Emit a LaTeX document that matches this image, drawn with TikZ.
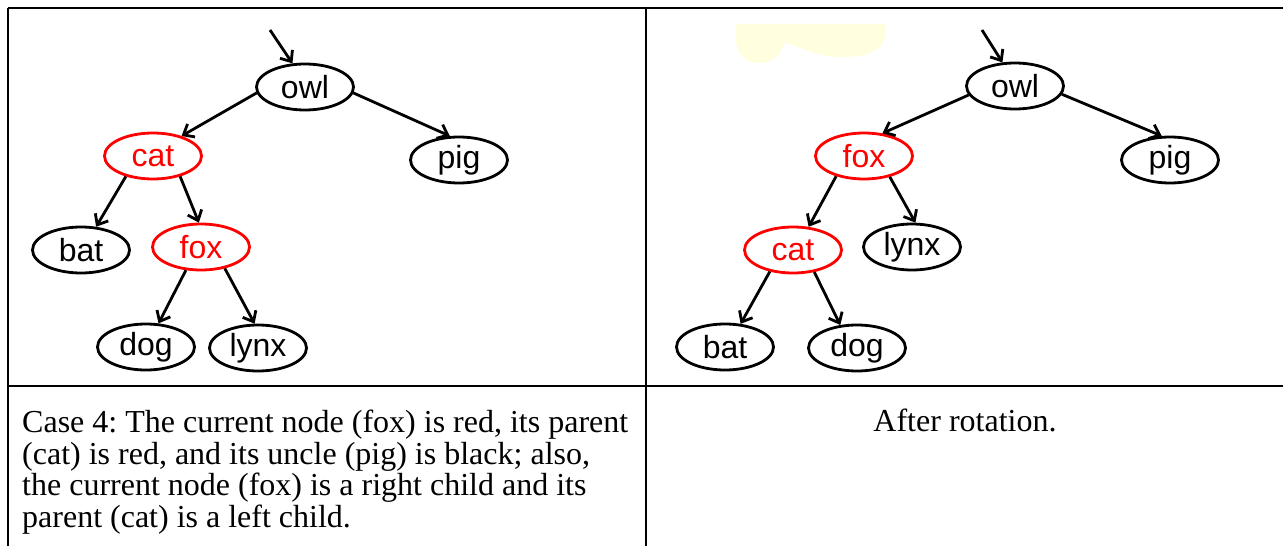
\documentclass[tikz,border=0pt]{standalone}
\usepackage{fontspec}
\setmainfont{Liberation Serif}
\newfontfamily\treefont{Liberation Sans}
\usetikzlibrary{arrows.meta,shapes.geometric}
\definecolor{notepad}{HTML}{FFFFE0}
\tikzset{
  rb/.style={ellipse, draw=black, line width=2.8pt, minimum width=97pt,
             minimum height=46pt, inner sep=0pt,
             font=\treefont\fontsize{32}{32}\selectfont, text=black},
  rednode/.style={rb, draw=red, text=red},
  link/.style={line width=2.8pt, -{Straight Barb[length=9pt,width=15pt]}},
  grid/.style={line width=2.5pt},
  caption/.style={font=\fontsize{32}{31.5}\selectfont, inner sep=0pt}
}
\begin{document}
\frenchspacing
\begin{tikzpicture}[x=1pt,y=-1pt]
\useasboundingbox (0,0) rectangle (1283,546);

% table rules
\draw[grid] (8,8) -- (1295,8);
\draw[grid] (8,8) -- (8,560);
\draw[grid] (646,8) -- (646,560);
\draw[grid] (8,386) -- (1295,386);

% sticky-note fragment
\fill[notepad] (736,24) -- (886,24) -- (886,30)
  .. controls (886,50) and (870,57) .. (840,57)
  .. controls (815,57) and (795,44) .. (784,43)
  .. controls (782,55) and (772,63) .. (758,63)
  .. controls (744,63) and (736,52) .. (736,40) -- cycle;

% tree before rotation
\node[rb] (owlL) at (305,87) {owl};
\node[rb] (pigL) at (459,160) {pig};
\node[rednode] (catL) at (153,156) {cat};
\node[rb] (batL) at (81,250) {bat};
\node[rednode] (foxL) at (201,247) {fox};
\node[rb] (dogL) at (146,347) {dog};
\node[rb] (lynxL) at (258,348) {lynx};
\coordinate (rootL) at (270,30);

\draw[link] (rootL) -- (owlL.118);
\draw[link] (owlL.187) -- (catL.35);
\draw[link] (owlL.-7) -- (pigL.111);
\draw[link] (catL.-143) -- (batL.57);
\draw[link] (catL.-37) -- (foxL.95);
\draw[link] (foxL.-123) -- (dogL.62);
\draw[link] (foxL.-42) -- (lynxL.98);

% tree after rotation
\node[rb] (owlR) at (1015,86) {owl};
\node[rb] (pigR) at (1170,160) {pig};
\node[rednode] (foxR) at (864,156) {fox};
\node[rb] (lynxR) at (912,247) {lynx};
\node[rednode] (catR) at (793,250) {cat};
\node[rb] (batR) at (725,347) {bat};
\node[rb] (dogR) at (857,348) {dog};
\coordinate (rootR) at (982,30);

\draw[link] (rootR) -- (owlR.118);
\draw[link] (owlR.191) -- (foxR.51);
\draw[link] (owlR.-10) -- (pigR.109);
\draw[link] (foxR.-144) -- (catR.56);
\draw[link] (foxR.-39) -- (lynxR.82);
\draw[link] (catR.-137) -- (batR.56);
\draw[link] (catR.-46) -- (dogR.126);

% captions
\node[caption, anchor=north west, align=left] (capL) at (22,410)
  {Case 4: The current node (fox) is red, its parent\\
   (cat) is red, and its uncle (pig) is black; also,\\
   the current node (fox) is a right child and its\\
   parent (cat) is a left child.};
\node[caption, anchor=base] (capR) at (965,431) {After rotation.};
\end{tikzpicture}
\end{document}
